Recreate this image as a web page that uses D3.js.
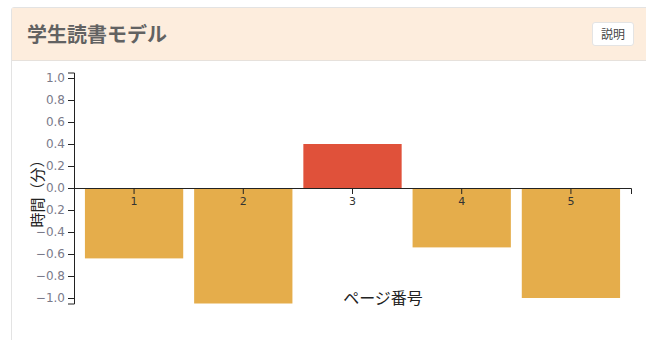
<!DOCTYPE html>
<html>
<head>
<meta charset="utf-8">
<script src="https://cdnjs.cloudflare.com/ajax/libs/d3/7.8.5/d3.min.js"></script>
<style>
  body { margin: 0; background: #fff; font-family: "Noto Sans CJK JP", "DejaVu Sans", sans-serif; }
  .panel { position: absolute; left: 11px; top: 7px; width: 660px; height: 360px;
           border: 1px solid #e3e3e3; border-radius: 3px; background: #fff; }
  .panel-heading { height: 52px; background: #fdeddd; border-bottom: 1px solid #e6e1dc; position: relative; }
  .panel-title { position: absolute; left: 15px; top: 11px; font-size: 20px; font-weight: bold; color: #626262; }
  .btn { position: absolute; left: 580px; top: 14px; width: 40px; height: 22px; background: #fff;
         border: 1px solid #e4e4e4; border-radius: 3px; font-size: 12px; line-height: 22px; text-align: center; color: #444; }
  #chart { position: absolute; left: 0; top: 0; }
  .axis text { font-family: "DejaVu Sans", sans-serif; font-size: 11px; }
  .axis.y text { font-size: 12px; }
  .axis path, .axis line { stroke: #222; }
</style>
</head>
<body>
<div class="panel">
  <div class="panel-heading">
    <div class="panel-title">学生読書モデル</div>
    <div class="btn">説明</div>
  </div>
</div>
<svg id="chart" width="646" height="340"></svg>
<script>
// page numbers and reading time difference (minutes)
var pages = ["1", "2", "3", "4", "5"];
var times = [-0.64, -1.05, 0.40, -0.54, -1.00];
var yTicks = [-1.0, -0.8, -0.6, -0.4, -0.2, 0.0, 0.2, 0.4, 0.6, 0.8, 1.0];

var _margins = { top: 72.5, right: 15, bottom: 36.5, left: 74 },
    _width = 646,
    _height = 340;

var svg = d3.select("#chart");

var data = pages.map(function(p, i) { return { page: p, time: times[i] }; });
var maxAbs = d3.max(times, function(d) { return Math.abs(d); });

var x = d3.scaleBand()
  .domain(pages)
  .range([_margins.left, _width - _margins.right])
  .padding(0.1);

var y = d3.scaleLinear()
  .domain([-maxAbs, maxAbs])
  .range([_height - _margins.bottom, _margins.top]);

// bars
svg.append("g").attr("class", "bars")
  .selectAll("rect")
  .data(data)
  .enter().append("rect")
  .attr("x", function(d) { return x(d.page); })
  .attr("width", x.bandwidth())
  .attr("y", function(d) { return y(Math.max(0, d.time)); })
  .attr("height", function(d) { return Math.abs(y(d.time) - y(0)); })
  .attr("fill", function(d) { return d.time > 0 ? "#e0513a" : "#e5ad4b"; });

// x axis through zero
var xAxis = svg.append("g")
  .attr("class", "axis x")
  .attr("transform", "translate(0," + y(0) + ")")
  .call(d3.axisBottom(x));
xAxis.selectAll("text").attr("fill", "#333");

// y axis
var yAxis = svg.append("g")
  .attr("class", "axis y")
  .attr("transform", "translate(" + _margins.left + ",0)")
  .call(d3.axisLeft(y).tickValues(yTicks).tickFormat(d3.format(".1f")));
yAxis.selectAll("text").attr("fill", "#7a7a8a");

// axis titles
svg.append("text")
  .attr("transform", "translate(43,190) rotate(-90)")
  .attr("text-anchor", "middle")
  .style("font-family", "'Noto Sans CJK JP', sans-serif")
  .style("font-size", "15px")
  .attr("fill", "#222")
  .text("時間（分）");

svg.append("text")
  .attr("x", 383)
  .attr("y", 304)
  .attr("text-anchor", "middle")
  .style("font-family", "'Noto Sans CJK JP', sans-serif")
  .style("font-size", "16px")
  .attr("fill", "#222")
  .text("ページ番号");
</script>
</body>
</html>
